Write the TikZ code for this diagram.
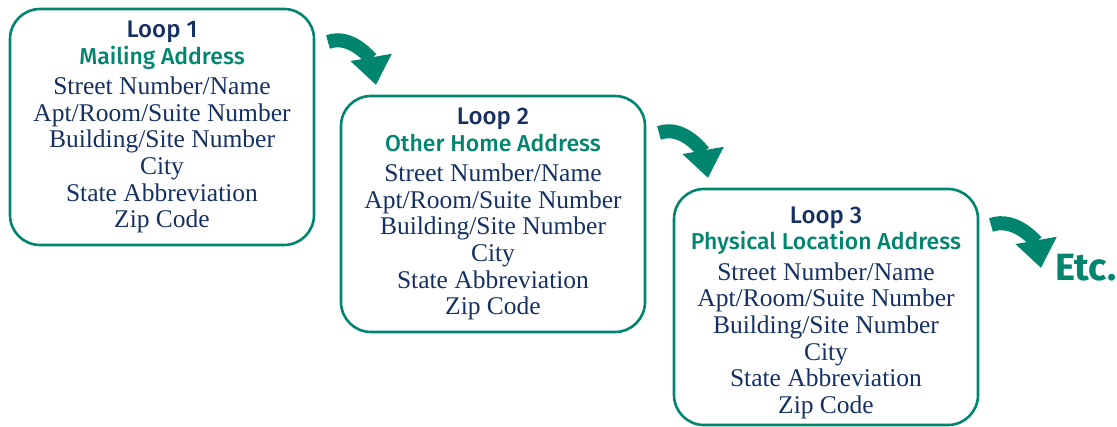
\documentclass[tikz,border=0pt]{standalone}
\usepackage{fontspec}
\setmainfont{Liberation Serif}
\newfontfamily\headfamily{Fira Sans Medium}
\newfontfamily\etcfamily{Fira Sans}
\usetikzlibrary{arrows.meta,positioning}

\definecolor{loopteal}{RGB}{0,133,111}
\definecolor{loopnavy}{RGB}{22,48,98}

\newcommand{\loophead}[2][0pt]{{\headfamily\fontsize{24}{27}\selectfont\color{loopnavy}\rule{0pt}{#1}#2}}
\newcommand{\loopsub}[1]{{\headfamily\fontsize{23}{27}\selectfont\color{loopteal}#1}}

\tikzset{
  loopbox/.style={draw=loopteal, line width=2.6pt, rounded corners=30pt,
    minimum width=304pt, minimum height=236pt, align=center, text=loopnavy,
    font=\fontsize{25.5}{26.6}\selectfont, inner sep=0pt},
  looparrow/.style={draw=loopteal, line width=14pt,
    -{Triangle[length=28pt,width=40pt]}},
}

\begin{document}
\begin{tikzpicture}[x=1pt,y=-1pt]
\useasboundingbox (0,0) rectangle (1117,427);

% ===== Loop boxes =====
\node[loopbox] (loop1) at (162,127) {%
  \loophead{Loop 1}\\[0pt]
  \loopsub{Mailing Address}\\[4pt]
  Street Number/Name\\ Apt/Room/Suite Number\\ Building/Site Number\\
  City\\ State Abbreviation\\ Zip Code};

\node[loopbox] (loop2) at (493,214) {%
  \loophead{Loop 2}\\[0pt]
  \loopsub{Other Home Address}\\[4pt]
  Street Number/Name\\ Apt/Room/Suite Number\\ Building/Site Number\\
  City\\ State Abbreviation\\ Zip Code};

\node[loopbox] (loop3) at (826,307) {%
  \loophead[28pt]{Loop 3}\\[0pt]
  \loopsub{Physical Location Address}\\[4pt]
  Street Number/Name\\ Apt/Room/Suite Number\\ Building/Site Number\\
  City\\ State Abbreviation\\ Zip Code};

\node[text=loopteal, font=\etcfamily\bfseries\fontsize{38}{40}\selectfont,
      anchor=west] (etc) at (1052,268) {Etc.};

% ===== Curved arrows =====
\coordinate (a1s) at (328,42);
\coordinate (a1e) at (376,85);
\coordinate (a2s) at (659,133);
\coordinate (a2e) at (708,178);
\coordinate (a3s) at (991,225);
\coordinate (a3e) at (1041,268);

\draw[looparrow] (a1s) to[out=20,in=100] (a1e);
\draw[looparrow] (a2s) to[out=20,in=100] (a2e);
\draw[looparrow] (a3s) to[out=20,in=100] (a3e);

\end{tikzpicture}
\end{document}
